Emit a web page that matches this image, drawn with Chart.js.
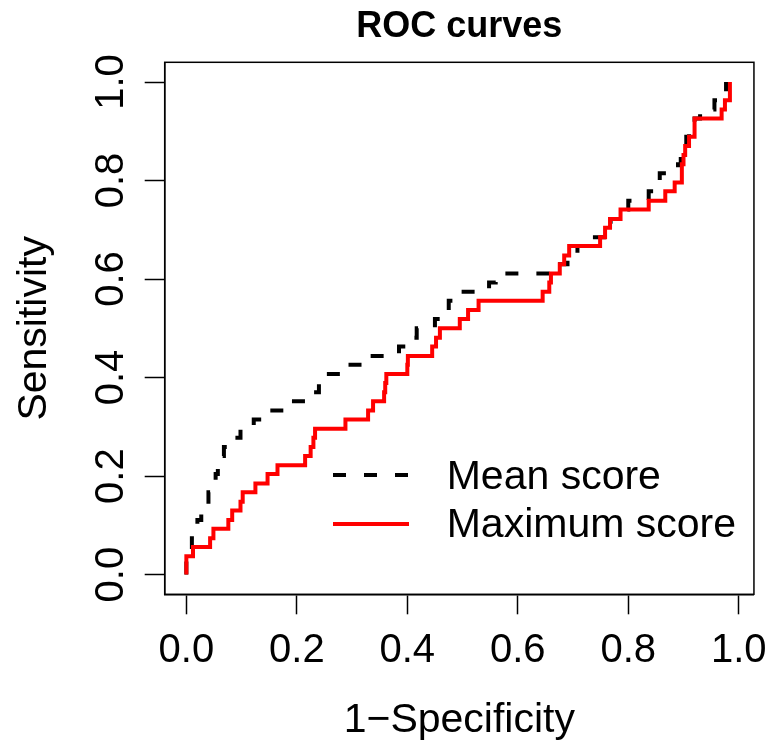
<!DOCTYPE html>
<html>
<head>
<meta charset="utf-8">
<script src="https://cdn.jsdelivr.net/npm/chart.js@4/dist/chart.umd.min.js"></script>
<style>
  html, body { margin: 0; padding: 0; background: #ffffff; }
  #wrap { width: 780px; height: 751px; }
</style>
</head>
<body>
<div id="wrap"><canvas id="c" width="780" height="751"></canvas></div>
<script>
// ---- data (step corners: x where the jump happens, new y) ----
const chartTitle = "ROC curves";
const xTitle = "1\u2212Specificity";
const yTitle = "Sensitivity";
const seriesNames = ["Mean score", "Maximum score"];
const xTickValues = [0, 0.2, 0.4, 0.6, 0.8, 1.0];
const yTickValues = [0, 0.2, 0.4, 0.6, 0.8, 1.0];

const meanFpr = [0.000, 0.000, 0.010, 0.020, 0.027, 0.033, 0.040, 0.047, 0.053, 0.057,
                 0.062, 0.068, 0.086, 0.098, 0.122, 0.149, 0.187, 0.225, 0.240, 0.245,
                 0.285, 0.322, 0.385, 0.410, 0.417, 0.450, 0.472, 0.475, 0.478, 0.548,
                 0.560, 0.668, 0.690, 0.708, 0.725, 0.765, 0.768, 0.786, 0.800, 0.837,
                 0.855, 0.857, 0.890, 0.895, 0.900, 0.905, 0.910, 0.920, 0.930, 0.956,
                 0.970, 0.977];
const meanTpr = [0.000, 0.037, 0.074, 0.111, 0.130, 0.148, 0.167, 0.185, 0.204, 0.222,
                 0.241, 0.259, 0.278, 0.296, 0.315, 0.333, 0.352, 0.370, 0.389, 0.407,
                 0.426, 0.444, 0.463, 0.481, 0.500, 0.519, 0.537, 0.556, 0.574, 0.593,
                 0.611, 0.630, 0.648, 0.667, 0.685, 0.704, 0.722, 0.741, 0.759, 0.778,
                 0.796, 0.815, 0.833, 0.852, 0.870, 0.889, 0.907, 0.926, 0.944, 0.963,
                 0.981, 1.000];

const maxFpr = [0.000, 0.000, 0.012, 0.043, 0.049, 0.076, 0.083, 0.098, 0.102, 0.125,
                0.147, 0.165, 0.215, 0.225, 0.230, 0.233, 0.288, 0.329, 0.338, 0.358,
                0.360, 0.362, 0.400, 0.401, 0.445, 0.452, 0.459, 0.495, 0.510, 0.529,
                0.645, 0.657, 0.660, 0.676, 0.684, 0.693, 0.749, 0.758, 0.767, 0.786,
                0.837, 0.867, 0.884, 0.897, 0.897, 0.900, 0.903, 0.910, 0.920, 0.920,
                0.969, 0.975, 0.984, 0.984];
const maxTpr = [0.000, 0.037, 0.056, 0.074, 0.093, 0.111, 0.130, 0.148, 0.167, 0.185,
                0.204, 0.222, 0.241, 0.259, 0.278, 0.296, 0.315, 0.333, 0.352, 0.370,
                0.389, 0.407, 0.426, 0.444, 0.463, 0.481, 0.500, 0.519, 0.537, 0.556,
                0.574, 0.593, 0.611, 0.630, 0.648, 0.667, 0.685, 0.704, 0.722, 0.741,
                0.759, 0.778, 0.796, 0.815, 0.833, 0.852, 0.870, 0.889, 0.907, 0.926,
                0.944, 0.963, 0.981, 1.000];

const FONT = "'Liberation Sans', Arial, Helvetica, sans-serif";

function pairs(xs, ys) { return xs.map((x, i) => ({ x: x, y: ys[i] })); }

// box around the plot region + title centred over the plot region (as R does)
const boxPlugin = {
  id: 'rbox',
  afterDraw(chart) {
    const { ctx, chartArea: a } = chart;
    ctx.save();
    ctx.strokeStyle = '#000';
    ctx.lineWidth = 1.5;
    ctx.strokeRect(a.left, a.top, a.right - a.left, a.bottom - a.top);
    ctx.fillStyle = '#000';
    ctx.font = 'bold 36px ' + FONT;
    ctx.textAlign = 'center';
    ctx.textBaseline = 'middle';
    ctx.fillText(chartTitle, (a.left + a.right) / 2, a.top - 35.3);
    ctx.restore();
  }
};

const legendPlugin = {
  id: 'rlegend',
  afterDraw(chart) {
    const { ctx, chartArea: a } = chart;
    const rows = [
      { lineY: 412.7, textY: 415.5 },
      { lineY: 461.7, textY: 463.5 }
    ];
    ctx.save();
    chart.data.datasets.forEach((ds, i) => {
      const r = rows[i];
      ctx.beginPath();
      ctx.strokeStyle = ds.borderColor;
      ctx.lineWidth = ds.borderWidth;
      ctx.setLineDash(ds.borderDash || []);
      ctx.lineCap = 'butt';
      ctx.moveTo(a.left + 168.3, a.top + r.lineY);
      ctx.lineTo(a.left + 244.3, a.top + r.lineY);
      ctx.stroke();
      ctx.setLineDash([]);
      ctx.fillStyle = '#000';
      ctx.font = '41px ' + FONT;
      ctx.textAlign = 'left';
      ctx.textBaseline = 'middle';
      ctx.fillText(ds.label, a.left + 282, a.top + r.textY);
    });
    ctx.restore();
  }
};

new Chart(document.getElementById('c'), {
  type: 'scatter',
  data: {
    datasets: [
      {
        label: seriesNames[0],
        data: pairs(meanFpr, meanTpr),
        showLine: true,
        stepped: 'before',
        borderColor: '#000000',
        backgroundColor: '#000000',
        borderWidth: 4,
        borderDash: [13, 18],
        pointRadius: 0,
        fill: false,
        order: 2
      },
      {
        label: seriesNames[1],
        data: pairs(maxFpr, maxTpr),
        showLine: true,
        stepped: 'before',
        borderColor: '#ff0000',
        backgroundColor: '#ff0000',
        borderWidth: 4,
        pointRadius: 0,
        fill: false,
        order: 1
      }
    ]
  },
  options: {
    responsive: false,
    animation: false,
    devicePixelRatio: 1,
    layout: { padding: { top: 62.3, right: 17.3, bottom: 0, left: 0 } },
    plugins: {
      legend: { display: false },
      tooltip: { enabled: false },
      title: { display: false }
    },
    scales: {
      x: {
        type: 'linear',
        position: 'bottom',
        min: -0.0392,
        max: 1.0275,
        afterBuildTicks(scale) { scale.ticks = xTickValues.map(v => ({ value: v })); },
        afterFit(scale) { scale.height = 156.7; },
        ticks: {
          color: '#000',
          font: { family: FONT, size: 40 },
          padding: 13,
          maxRotation: 0,
          autoSkip: false,
          callback: (v) => Number(v).toFixed(1)
        },
        grid: {
          display: true,
          drawOnChartArea: false,
          drawTicks: true,
          tickLength: 20,
          tickColor: '#000',
          tickWidth: 1.5
        },
        border: { display: true, color: '#000', width: 1.5 },
        title: {
          display: true,
          text: xTitle,
          color: '#000',
          font: { family: FONT, size: 41 },
          padding: { top: 0, bottom: 5.5 }
        }
      },
      y: {
        type: 'linear',
        position: 'left',
        min: -0.04,
        max: 1.04,
        afterBuildTicks(scale) { scale.ticks = yTickValues.map(v => ({ value: v })); },
        afterFit(scale) { scale.width = 164.7; },
        ticks: {
          color: '#000',
          font: { family: FONT, size: 40 },
          padding: 5,
          minRotation: 90,
          maxRotation: 90,
          crossAlign: 'center',
          autoSkip: false,
          callback: (v) => Number(v).toFixed(1)
        },
        grid: {
          display: true,
          drawOnChartArea: false,
          drawTicks: true,
          tickLength: 20,
          tickColor: '#000',
          tickWidth: 1.5
        },
        border: { display: true, color: '#000', width: 1.5 },
        title: {
          display: true,
          text: yTitle,
          color: '#000',
          font: { family: FONT, size: 41 },
          padding: { top: 10.5, bottom: 0 }
        }
      }
    }
  },
  plugins: [boxPlugin, legendPlugin]
});
</script>
</body>
</html>
